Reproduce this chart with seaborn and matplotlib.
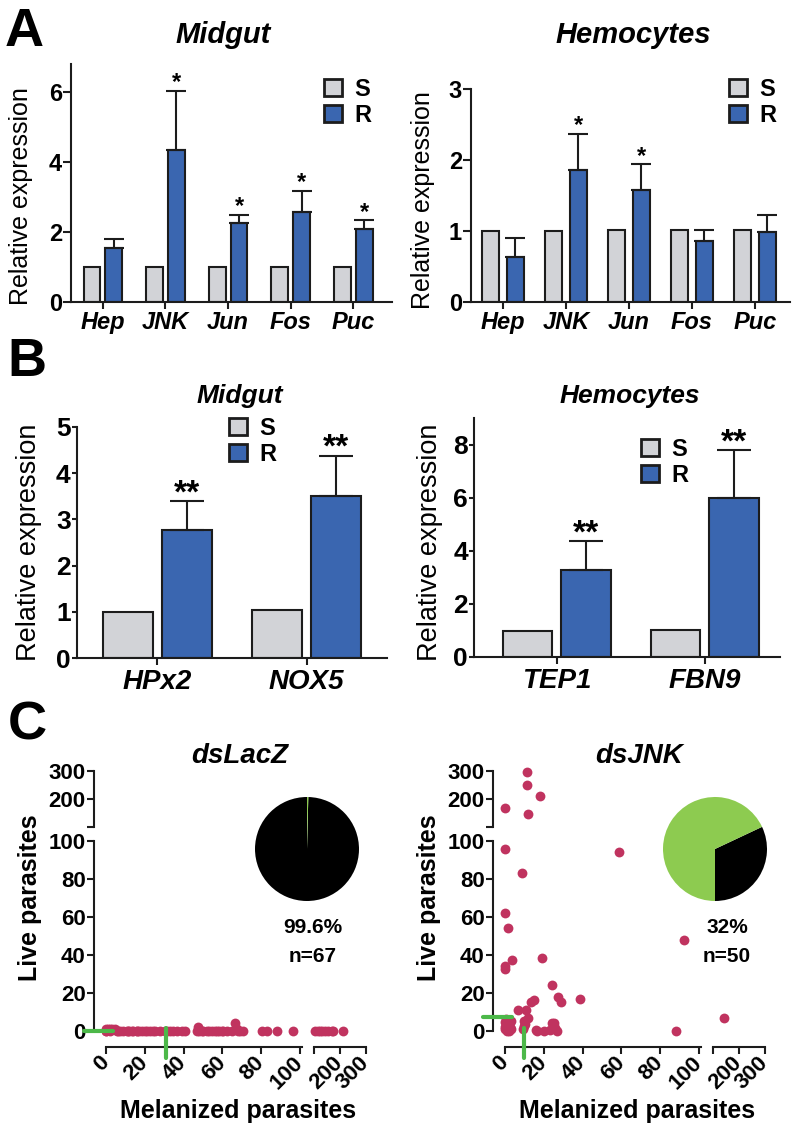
import numpy as np
import pandas as pd
import matplotlib
matplotlib.use("Agg")
import matplotlib.pyplot as plt
from matplotlib.patches import Patch
import seaborn as sns

# ---------------- data ----------------
A_genes = ["Hep", "JNK", "Jun", "Fos", "Puc"]
A_mid_S = [1.0, 1.0, 1.0, 1.0, 1.0]
A_mid_R = [1.53, 4.34, 2.27, 2.56, 2.09]
A_mid_R_err = [0.26, 1.70, 0.22, 0.62, 0.25]
A_mid_sig = ["", "*", "*", "*", "*"]
A_hem_S = [1.0, 1.0, 1.01, 1.02, 1.01]
A_hem_R = [0.64, 1.86, 1.58, 0.86, 0.98]
A_hem_R_err = [0.26, 0.51, 0.36, 0.15, 0.25]
A_hem_sig = ["", "*", "*", "", ""]

B_mid_genes = ["HPx2", "NOX5"]
B_mid_S = [1.0, 1.04]
B_mid_R = [2.77, 3.51]
B_mid_R_err = [0.63, 0.87]
B_mid_sig = ["**", "**"]
B_hem_genes = ["TEP1", "FBN9"]
B_hem_S = [0.99, 1.01]
B_hem_R = [3.28, 5.99]
B_hem_R_err = [1.10, 1.79]
B_hem_sig = ["**", "**"]

groups = ["S", "R"]

lacz_mel = [0, 0, 0, 1, 2, 3, 4.6, 5.5, 7.2, 8.9, 10.6, 11.5, 13.2, 14, 15.8, 17, 18.4,
            20.1, 21, 22.7, 25.3, 27.8, 30.4, 31.3, 33, 34.7, 36.4, 39, 40.7,
            46.7, 47.6, 49.3, 50, 51.9, 53, 54.5, 56, 57, 59.6, 60.5, 62.2, 64.8, 66.5,
            67.3, 68.2, 69, 70.8, 80.2, 82.8, 88, 96.5,
            104, 117, 123, 129, 142, 155, 168, 174, 213,
            2, 6, 12, 16, 24, 48, 58]
lacz_live = [0, 1, 0, 1, 1, 1, 1, 0, 0, 0, 0, 0, 0, 0, 0, 0, 0,
             0, 0, 0, 0, 0, 0, 0, 0, 0, 0, 0, 0,
             0, 2, 0, 0, 0, 0, 0, 0, 0, 0, 0, 0, 0, 4,
             1, 0, 0, 0, 0, 0, 0, 0,
             0, 0, 0, 0, 0, 0, 0, 0, 0,
             0, 0, 0, 0, 0, 0, 0]
jnk_mel = [11.5, 11.5, 18, 0, 12, 0, 58.5, 8.5, 0, 1.7, 3.8, 0, 0, 18.8, 92, 24, 27.5,
           29, 38.7, 15, 13.6, 6.9, 11, 12, 9.8, 9.8, 1.2, 2.9, 0, 0.5, 1.5, 2.5, 16.6,
           20, 24, 25, 23.3, 26.8, 88.3, 142, 0, 1, 0, 3, 10.5, 25.5, 0.5, 2, 16, 9.5]
jnk_live = [297, 249, 209, 167, 147, 96, 94, 83, 62, 54, 37.5, 34, 32.5, 38.4, 48, 24, 18,
            15, 17, 16, 15, 11, 11, 7, 5.3, 2.6, 5.3, 5.3, 1, 3, 0.5, 2, 0,
            0, 4.4, 4.4, 0.5, 0, 0, 7, 4.5, 0, 2, 1, 3.5, 1.5, 6, 0, 0.5, 1]
lacz_median = (31, 0)      # (melanized, live)
jnk_median = (10, 7.4)
lacz_pie = [99.6, 0.4]     # melanized %, other
jnk_pie = [32, 68]
lacz_n = 67
jnk_n = 50

# ---------------- style ----------------
sns.set_style("ticks")
plt.rcParams["font.family"] = ["Liberation Sans", "DejaVu Sans"]
plt.rcParams["axes.linewidth"] = 1.5
for k in ("text.color", "axes.labelcolor", "xtick.color", "ytick.color",
          "axes.edgecolor"):
    plt.rcParams[k] = "black"

GRAY = "#D2D3D7"
BLUE = "#3A66B0"
EDGE = "#1C1C1C"
DOT = "#C0335F"
MED = "#4CB849"
PIEG = "#8DCB50"

W, H = 797, 1129
fig = plt.figure(figsize=(W / 100, H / 100), dpi=100)


def rect(l, t, r, b):
    return [l / W, 1 - b / H, (r - l) / W, (b - t) / H]


def fxy(x, y):
    return (x / W, 1 - y / H)


def ftext(x, y, s, **kw):
    fig.text(x / W, 1 - y / H, s, **kw)


def bar_panel(box, genes, s_vals, r_vals, r_err, sig, ylim, yticks, xlim, width, gap,
              tick_fs, xt_fs, ylab_fs, ylab_xy, leg_xy, leg_fs, star_fs, star_off,
              capsize, tick_len, xpad, ylab_weight="normal"):
    ax = fig.add_axes(rect(*box))
    n = len(genes)
    df = pd.DataFrame({"gene": genes * 2,
                       "group": ["S"] * n + ["R"] * n,
                       "value": list(s_vals) + list(r_vals)})
    sns.barplot(data=df, x="gene", y="value", hue="group", hue_order=groups,
                palette={"S": GRAY, "R": BLUE}, saturation=1, width=width, gap=gap,
                edgecolor=EDGE, linewidth=1.5, errorbar=None, legend=False, ax=ax)
    r_bars = ax.containers[1]
    xs = [b.get_x() + b.get_width() / 2 for b in r_bars]
    ax.errorbar(xs, r_vals, yerr=[np.zeros(n), r_err], fmt="none", ecolor=EDGE,
                elinewidth=1.5, capsize=capsize, capthick=1.5, zorder=3)
    for x, v, e, s in zip(xs, r_vals, r_err, sig):
        if s:
            ax.annotate(s, (x, v + e), xytext=(0, star_off), textcoords="offset points",
                        ha="center", va="baseline", fontsize=star_fs, fontweight="bold")
    ax.set_xlim(*xlim)
    ax.set_ylim(*ylim)
    ax.set_yticks(yticks)
    ax.set_yticklabels([str(t) for t in yticks], fontsize=tick_fs, fontweight="bold")
    ax.set_xticks(range(n))
    ax.set_xticklabels(genes, fontsize=xt_fs, fontweight="bold", fontstyle="italic")
    ax.tick_params(axis="y", length=tick_len, width=1.5, pad=1, color=EDGE)
    ax.tick_params(axis="x", length=5, width=1.5, pad=xpad, color=EDGE)
    ax.set_xlabel("")
    ax.set_ylabel("Relative expression", fontsize=ylab_fs, fontweight=ylab_weight)
    ax.yaxis.set_label_coords(*fxy(*ylab_xy), transform=fig.transFigure)
    sns.despine(ax=ax)
    for sp in ("left", "bottom"):
        ax.spines[sp].set_color(EDGE)
    handles = [Patch(facecolor=GRAY, edgecolor=EDGE, linewidth=2),
               Patch(facecolor=BLUE, edgecolor=EDGE, linewidth=2)]
    ax.legend(handles, groups, loc="upper left", bbox_to_anchor=fxy(*leg_xy),
              bbox_transform=fig.transFigure, frameon=False, borderpad=0,
              borderaxespad=0, handlelength=0.75, handleheight=0.7,
              handletextpad=0.55, labelspacing=0.12,
              prop=dict(weight="bold", size=leg_fs))
    return ax


# ---------------- Panel A ----------------
ftext(5, 46, "A", fontsize=39, fontweight="bold", va="baseline")
ftext(223, 43, "Midgut", fontsize=21, fontweight="bold", fontstyle="italic",
      ha="center", va="baseline")
ftext(633, 43, "Hemocytes", fontsize=21, fontweight="bold", fontstyle="italic",
      ha="center", va="baseline")
bar_panel((71, 64, 392, 302), A_genes, A_mid_S, A_mid_R, A_mid_R_err, A_mid_sig,
          (0, 6.8), [0, 2, 4, 6], (-0.51, 4.62), 0.70, 0.23,
          17, 17, 18, (33, 196), (324, 78), 17, 17, 1, 7, 5.5, 1.5)
bar_panel((471, 89, 790, 302), A_genes, A_hem_S, A_hem_R, A_hem_R_err, A_hem_sig,
          (0, 3), [0, 1, 2, 3], (-0.51, 4.56), 0.78, 0.31,
          17, 17, 18, (435, 200), (729, 78), 17, 17, 1, 7, 5.5, 1.5)

# ---------------- Panel B ----------------
ftext(7, 376, "B", fontsize=39, fontweight="bold", va="baseline")
ftext(240, 403, "Midgut", fontsize=19, fontweight="bold", fontstyle="italic",
      ha="center", va="baseline")
ftext(630, 403, "Hemocytes", fontsize=19, fontweight="bold", fontstyle="italic",
      ha="center", va="baseline")
bar_panel((77, 427, 387, 658), B_mid_genes, B_mid_S, B_mid_R, B_mid_R_err, B_mid_sig,
          (0, 5), [0, 1, 2, 3, 4, 5], (-0.54, 1.54), 0.79, 0.15,
          19, 20, 19.5, (42, 542), (229, 417), 17, 24, -1, 12, 3.5, 3)
bar_panel((474, 418, 780, 657), B_hem_genes, B_hem_S, B_hem_R, B_hem_R_err, B_hem_sig,
          (0, 9), [0, 2, 4, 6, 8], (-0.56, 1.51), 0.79, 0.15,
          19, 20, 19.5, (443, 542), (641, 438), 17, 24, -1, 12, 3.5, 3)

# ---------------- Panel C ----------------
ftext(8, 740, "C", fontsize=39, fontweight="bold", va="baseline")


def broken_panel(dx, title, mel, live, median, pie_vals, pie_start, n_val, txt_dx):
    mel = np.asarray(mel, float)
    live = np.asarray(live, float)
    xl, xm, xu0, xu1 = 94 + dx, 302 + dx, 314 + dx, 366 + dx
    yb, ym, yu0, yt = 1047, 841, 827, 771
    x_lo, y_lo = (-6.2, 101), (-8.5, 100)
    x_hi, y_hi = (100, 300), (100, 300)
    ax_ll = fig.add_axes(rect(xl, ym, xm, yb))
    ax_ul = fig.add_axes(rect(xl, yt, xm, yu0))
    ax_lr = fig.add_axes(rect(xu0, ym, xu1, yb))
    ax_ur = fig.add_axes(rect(xu0, yt, xu1, yu0))
    for ax, xlim, ylim, xm_, ym_ in [
        (ax_ll, x_lo, y_lo, mel <= 100, live <= 100),
        (ax_ul, x_lo, y_hi, mel <= 100, live > 100),
        (ax_lr, x_hi, y_lo, mel > 100, live <= 100),
        (ax_ur, x_hi, y_hi, mel > 100, live > 100),
    ]:
        m = xm_ & ym_
        if m.any():
            sns.scatterplot(x=mel[m], y=live[m], color=DOT, s=50, linewidth=0,
                            ax=ax, clip_on=False, zorder=4)
        ax.set_xlim(*xlim)
        ax.set_ylim(*ylim)
        ax.patch.set_alpha(0)
        for sp in ax.spines.values():
            sp.set_visible(False)
            sp.set_linewidth(1.5)
            sp.set_color(EDGE)
        ax.tick_params(length=5, width=1.5, color=EDGE, labelsize=16, pad=1)
        ax.set_xticks([])
        ax.set_yticks([])
    # lower-left
    ax_ll.spines["left"].set_visible(True)
    ax_ll.spines["left"].set_bounds(0, 100)
    ax_ll.spines["bottom"].set_visible(True)
    ax_ll.spines["bottom"].set_bounds(0, 101)
    yt_lo = [0, 20, 40, 60, 80, 100]
    ax_ll.set_yticks(yt_lo)
    ax_ll.set_yticklabels([str(t) for t in yt_lo], fontweight="bold")
    ax_ll.set_xticks(yt_lo)
    ax_ll.set_xticklabels([str(t) for t in yt_lo], fontweight="bold", rotation=45,
                          ha="right", va="center", rotation_mode="anchor")
    ax_ll.tick_params(axis="x", pad=4)
    # upper-left
    ax_ul.spines["left"].set_visible(True)
    ax_ul.spines["left"].set_bounds(100, 300)
    ax_ul.set_yticks([100, 200, 300])
    ax_ul.set_yticklabels(["", "200", "300"], fontweight="bold")
    # lower-right
    ax_lr.spines["bottom"].set_visible(True)
    ax_lr.spines["bottom"].set_bounds(100, 300)
    ax_lr.set_xticks([100, 200, 300])
    ax_lr.set_xticklabels(["", "200", "300"], fontweight="bold", rotation=45,
                          ha="right", va="center", rotation_mode="anchor")
    ax_lr.tick_params(axis="x", pad=4)
    # medians
    ax_ll.axhline(median[1], xmin=-0.05, xmax=0.09, color=MED, lw=3, clip_on=False,
                  zorder=5)
    ax_ll.axvline(median[0], ymin=-0.055, ymax=0.09, color=MED, lw=3, clip_on=False,
                  zorder=5)
    # labels
    ax_ll.set_ylabel("Live parasites", fontsize=18, fontweight="bold")
    ax_ll.yaxis.set_label_coords(*fxy(42 + dx, 898), transform=fig.transFigure)
    ax_ll.set_xlabel("Melanized parasites", fontsize=18, fontweight="bold")
    ax_ll.xaxis.set_label_coords(*fxy(238 + dx, 1118), transform=fig.transFigure)
    ax_ll.xaxis.label.set_va("baseline")
    ftext(240 + dx, 763, title, fontsize=20, fontweight="bold", fontstyle="italic",
          ha="center", va="baseline")
    # pie
    cx, cy, r = 307 + dx + (9 if dx else 0), 849, 52
    ax_p = fig.add_axes(rect(cx - r, cy - r, cx + r, cy + r))
    ax_p.pie(pie_vals, colors=["black", PIEG], startangle=pie_start,
             counterclock=True, wedgeprops=dict(linewidth=0))
    ax_p.set_xlim(-1, 1)
    ax_p.set_ylim(-1, 1)
    ax_p.set_aspect("equal")
    pct = f"{pie_vals[0]:g}%"
    ftext(cx + txt_dx, 933, pct, fontsize=15, fontweight="bold", ha="center",
          va="baseline")
    ftext(cx + txt_dx, 962, f"n={n_val}", fontsize=15, fontweight="bold",
          ha="center", va="baseline")


broken_panel(0, "dsLacZ", lacz_mel, lacz_live, lacz_median, lacz_pie, 90, lacz_n, 6)
broken_panel(399, "dsJNK", jnk_mel, jnk_live, jnk_median, jnk_pie, -90, jnk_n, 12)

fig.savefig("out.png", dpi=100)
